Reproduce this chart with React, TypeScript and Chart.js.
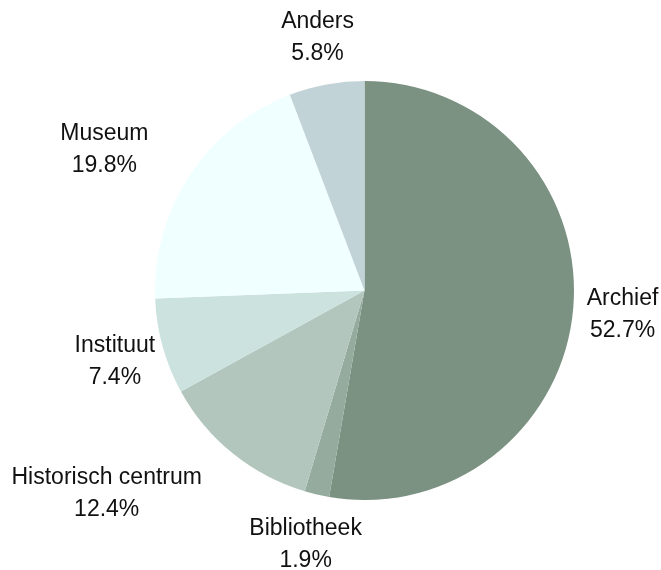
import React, { useEffect, useRef } from "react";
import { Chart, registerables } from "chart.js";

Chart.register(...registerables);

const categories = ["Archief", "Bibliotheek", "Historisch centrum", "Instituut", "Museum", "Anders"];
const shares = [52.7, 1.9, 12.4, 7.4, 19.8, 5.8];
const sliceColors = ["#7b9181", "#95ab9e", "#b2c6be", "#cce2df", "#f0ffff", "#c2d3d8"];

const FONT = '23px "Liberation Sans", Arial, sans-serif';

const outsideLabels = {
  id: "outsideLabels",
  afterDatasetsDraw(chart: any) {
    const ctx = chart.ctx;
    const meta = chart.getDatasetMeta(0);
    const data = chart.data.datasets[0].data as number[];
    const total = data.reduce((a, b) => a + b, 0);
    ctx.save();
    ctx.font = FONT;
    ctx.fillStyle = "#111111";
    ctx.textBaseline = "alphabetic";
    meta.data.forEach((arc: any, i: number) => {
      const p = arc.getProps(["x", "y", "startAngle", "endAngle", "outerRadius"], true);
      const mid = (p.startAngle + p.endAngle) / 2;
      const R = p.outerRadius;
      const d = R + 49.5;
      const ax = p.x + Math.cos(mid) * d;
      const ay = p.y + Math.sin(mid) * d;
      const lines = [String(chart.data.labels[i]), ((data[i] / total) * 100).toFixed(1) + "%"];
      const w = Math.max(...lines.map((l) => ctx.measureText(l).width));
      const hw = w / 2;
      const hh = 27;
      const x0 = ax - hw, x1 = ax + hw, y0 = ay - hh, y1 = ay + hh;
      const nx = Math.min(Math.max(p.x, x0), x1);
      const ny = Math.min(Math.max(p.y, y0), y1);
      const dist = Math.hypot(nx - p.x, ny - p.y);
      let cxText = ax;
      if (dist < R + 1) {
        cxText = ax < p.x ? ax - hw : ax + hw;
      }
      ctx.textAlign = "center";
      ctx.fillText(lines[0], cxText, ay - 16 + 8.3);
      ctx.fillText(lines[1], cxText, ay + 16 + 8.3);
    });
    ctx.restore();
  },
};

export default function App() {
  const ref = useRef<HTMLCanvasElement | null>(null);
  useEffect(() => {
    document.body.style.margin = "0";
    if (!ref.current) return;
    const chart = new Chart(ref.current, {
      type: "pie",
      data: {
        labels: categories,
        datasets: [
          {
            data: shares,
            backgroundColor: sliceColors,
            borderWidth: 0,
            hoverOffset: 0,
            offset: 0,
          },
        ],
      },
      options: {
        responsive: false,
        animation: false,
        layout: { padding: { left: 155, right: 87, top: 81, bottom: 70 } },
        plugins: {
          legend: { display: false },
          tooltip: { enabled: false },
        },
        events: [],
      },
      plugins: [outsideLabels],
    });
    return () => chart.destroy();
  }, []);
  return (
    <div style={{ width: 661, height: 570 }}>
      <canvas ref={ref} width={661} height={570} style={{ display: "block" }} />
    </div>
  );
}
